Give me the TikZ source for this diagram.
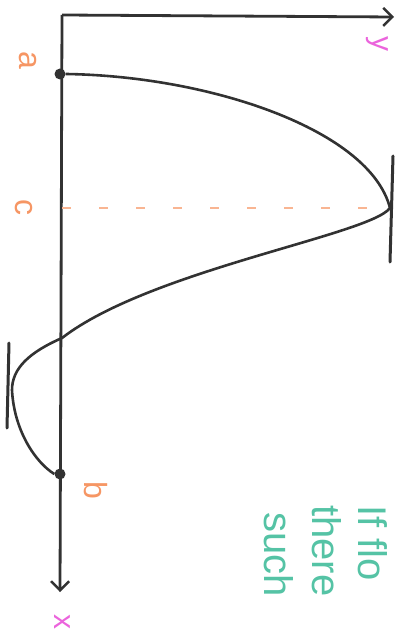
\documentclass[tikz,border=0pt]{standalone}
\usepackage{fontspec}
\setmainfont{Liberation Sans}
\usetikzlibrary{arrows.meta}
\definecolor{ink}{RGB}{50,50,50}
\definecolor{orng}{RGB}{246,150,100}
\definecolor{pnk}{RGB}{235,100,220}
\definecolor{teal2}{RGB}{85,195,165}
\tikzset{
  axis/.style={draw=ink,line width=2.8pt,-{Straight Barb[length=9pt,width=18pt,line width=2.5pt]}},
  curve/.style={draw=ink,line width=2.6pt},
  tickbar/.style={draw=ink,line width=3pt,line cap=round},
  dot/.style={circle,fill=ink,inner sep=0pt,minimum size=11pt},
  lbl/.style={text=orng,font=\fontsize{32}{34}\selectfont,rotate=-90,inner sep=0pt},
  axlbl/.style={text=pnk,font=\fontsize{30}{32}\selectfont,rotate=-90,inner sep=0pt},
  note/.style={text=teal2,font=\fontsize{40}{42}\selectfont,rotate=-90,anchor=base west,inner sep=0pt},
  guide/.style={draw=orng!70,line width=2pt,dash pattern=on 9pt off 28pt}
}
\begin{document}
\begin{tikzpicture}[x=1pt,y=-1pt]
\useasboundingbox (0,0) rectangle (398,636);
\coordinate (o) at (62,15);
\coordinate (xe) at (60,592);
\coordinate (ye) at (394,17);
\node[dot] (a) at (60,74) {};
\node[dot] (b) at (60,474) {};
\coordinate (c) at (390,208);
\coordinate (c0) at (62,208);
\coordinate (m) at (12,390);
\coordinate (t1) at (393,156);
\coordinate (t2) at (390,262);
\coordinate (s1) at (9,343);
\coordinate (s2) at (7,428);
% axes
\draw[axis] (o) -- (xe);
\draw[axis] (o) -- (ye);
% guide
\draw[guide] (c0) -- (c);
% curve
\draw[curve] (a.east) .. controls (210,76) and (370,130) .. (c)
  .. controls (370,235) and (150,270) .. (62,338)
  .. controls (30,352) and (12,368) .. (m)
  .. controls (14,430) and (35,462) .. (b.west);
% tick bars
\draw[tickbar] (t1) -- (t2);
\draw[tickbar] (s1) -- (s2);
% labels
\node[lbl] (la) at (28,60) {a};
\node[lbl] (lc) at (24,208) {c};
\node[lbl] (lb) at (96,490) {b};
\node[axlbl] (ly) at (377,44) {y};
\node[axlbl] (lx) at (62,622) {x};
% note
\node[note] (n1) at (358,505) {If flo};
\node[note] (n2) at (312,505) {there};
\node[note] (n3) at (264,512) {such};
\end{tikzpicture}
\end{document}
